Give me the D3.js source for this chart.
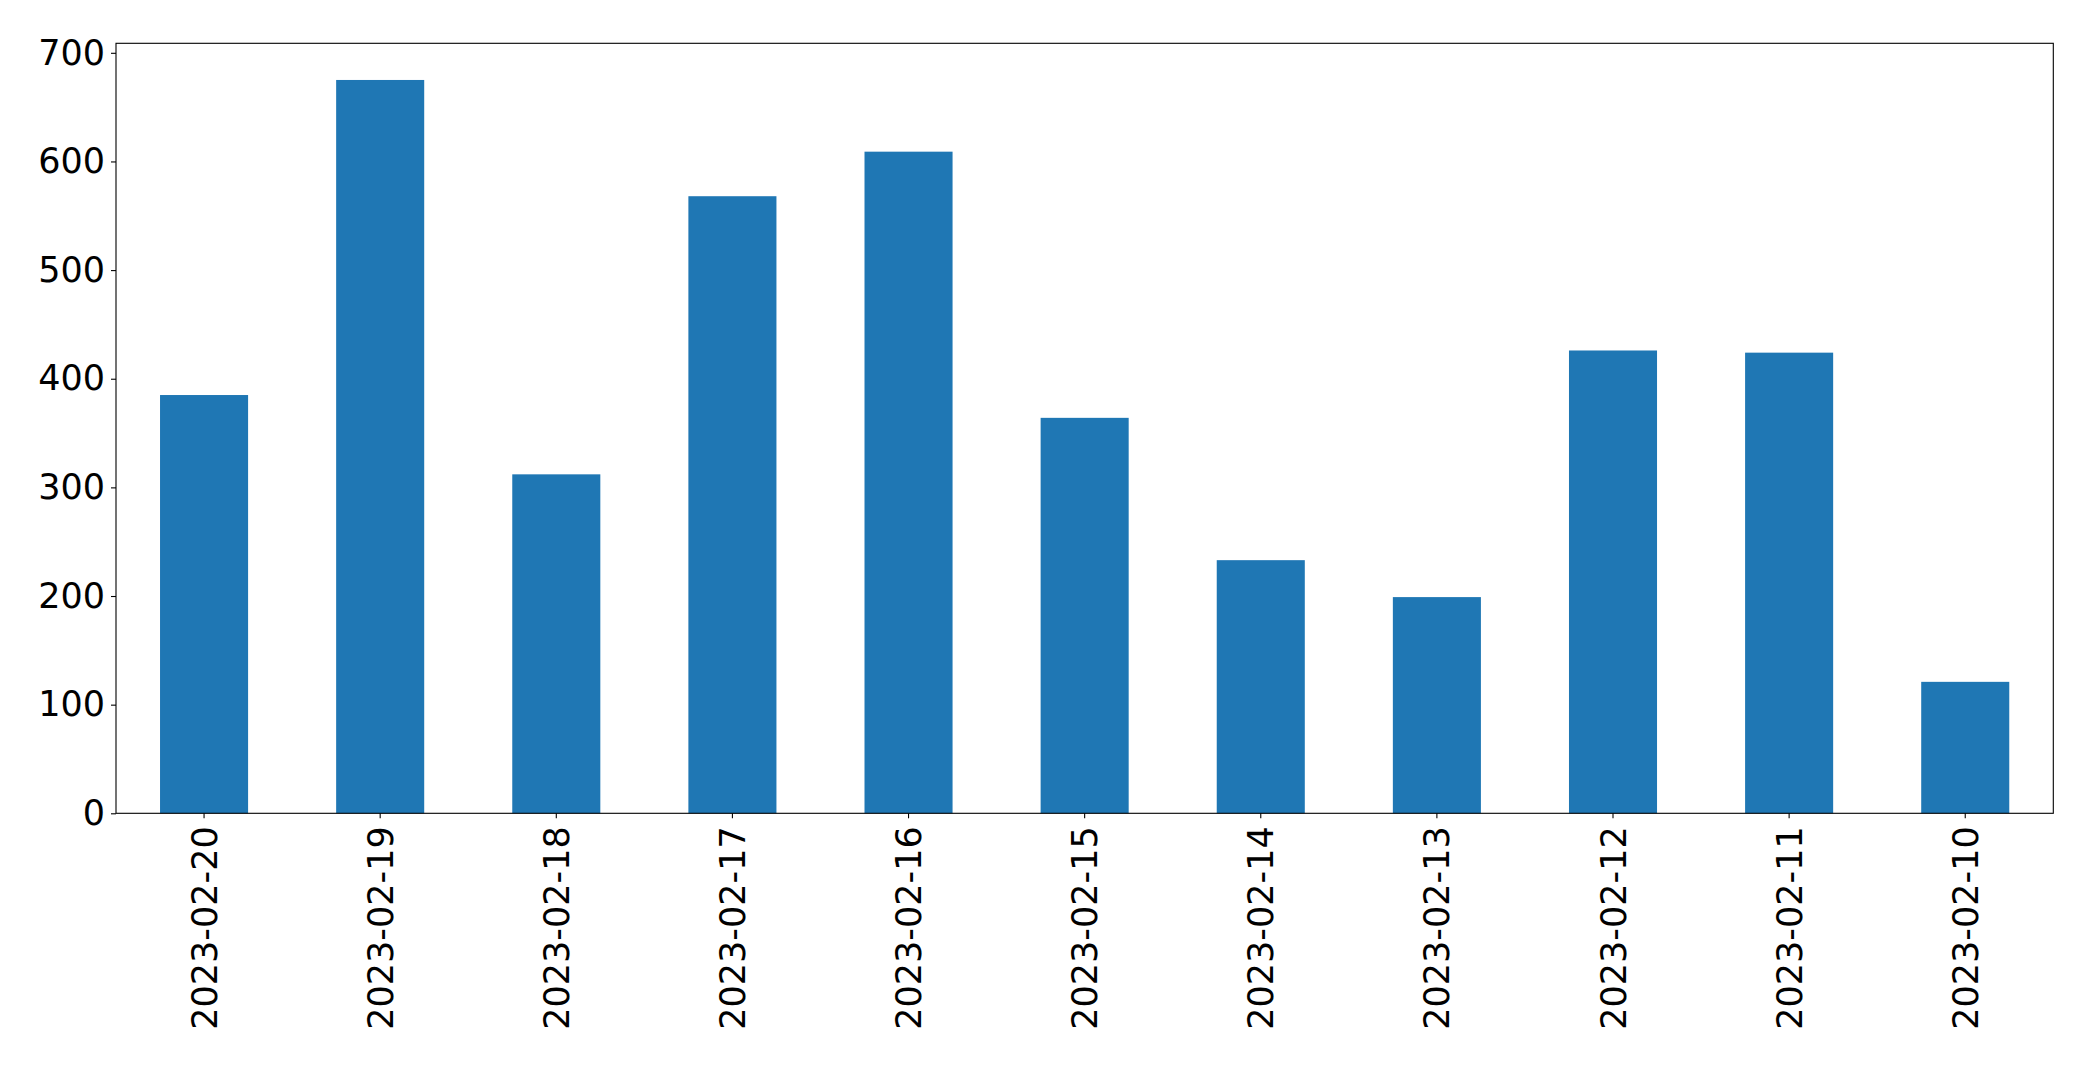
<!DOCTYPE html>
<html>
<head>
<meta charset="utf-8">
<script src="https://cdn.jsdelivr.net/npm/d3@7"></script>
<style>
  html, body { margin: 0; padding: 0; background: #fff; }
  svg { display: block; }
  text { font-family: "DejaVu Sans", sans-serif; fill: #000; }
</style>
</head>
<body>
<svg id="chart" width="2093" height="1065"></svg>
<script>
const categories = ["2023-02-20", "2023-02-19", "2023-02-18", "2023-02-17", "2023-02-16", "2023-02-15", "2023-02-14", "2023-02-13", "2023-02-12", "2023-02-11", "2023-02-10"];
const values = [385, 675, 312, 568, 609, 364, 233, 199, 426, 424, 121];
const yTicks = [0, 100, 200, 300, 400, 500, 600, 700];

const margin = { left: 116, top: 43.3, right: 2093 - 2053.3, bottom: 1065 - 813.3 };
const W = 2093, H = 1065;
const svg = d3.select("#chart");

const x = d3.scaleBand()
  .domain(categories)
  .range([margin.left, W - margin.right])
  .paddingInner(0.5)
  .paddingOuter(0.25);

const yMax = d3.max(values) * 1.05;
const y = d3.scaleLinear().domain([0, yMax]).range([H - margin.bottom, margin.top]);

svg.append("g")
  .selectAll("rect")
  .data(values)
  .join("rect")
  .attr("x", (d, i) => x(categories[i]))
  .attr("width", x.bandwidth())
  .attr("y", d => y(d))
  .attr("height", d => y(0) - y(d))
  .attr("fill", "#1f77b4");

// Y axis
const yAxis = svg.append("g")
  .attr("transform", `translate(${margin.left},0)`)
  .call(d3.axisLeft(y).tickValues(yTicks).tickSize(5).tickPadding(6));
yAxis.select(".domain").remove();
yAxis.selectAll(".tick line").attr("stroke", "#000").attr("stroke-width", 1.1);
yAxis.selectAll(".tick text")
  .style("font-family", "'DejaVu Sans', sans-serif")
  .style("font-size", "35px")
  .attr("fill", "#000");

// X axis
const xAxis = svg.append("g")
  .attr("transform", `translate(0,${H - margin.bottom})`)
  .call(d3.axisBottom(x).tickSize(5).tickPadding(0));
xAxis.select(".domain").remove();
xAxis.selectAll(".tick line").attr("stroke", "#000").attr("stroke-width", 1.1);
xAxis.selectAll(".tick text")
  .style("font-family", "'DejaVu Sans', sans-serif")
  .style("font-size", "35px")
  .attr("fill", "#000")
  .attr("text-anchor", "end")
  .attr("transform", "rotate(-90)")
  .attr("x", -13)
  .attr("y", 0)
  .attr("dy", "0.36em");

// Frame
svg.append("rect")
  .attr("x", margin.left)
  .attr("y", margin.top)
  .attr("width", W - margin.right - margin.left)
  .attr("height", H - margin.bottom - margin.top)
  .attr("fill", "none")
  .attr("stroke", "#000")
  .attr("stroke-width", 1.1);
</script>
</body>
</html>
